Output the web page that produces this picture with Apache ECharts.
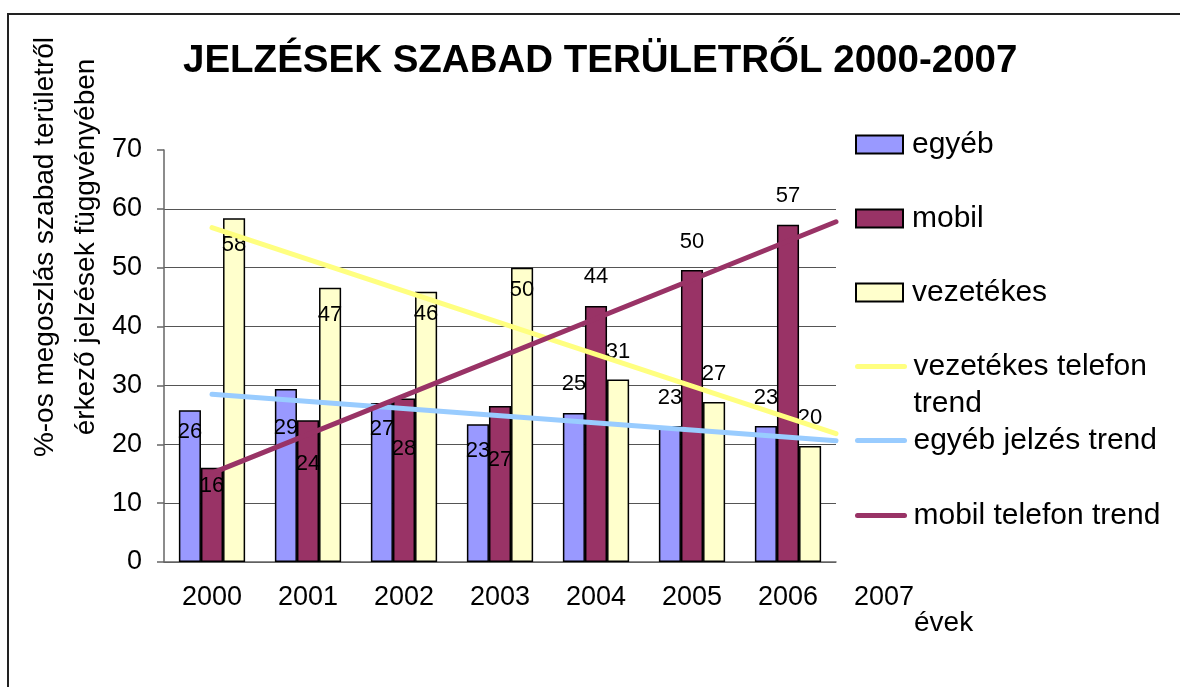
<!DOCTYPE html>
<html>
<head>
<meta charset="utf-8">
<script src="https://cdn.jsdelivr.net/npm/echarts@6/dist/echarts.min.js"></script>
<style>
  html, body { margin: 0; padding: 0; background: #fff; }
  #chart { width: 1180px; height: 687px; }
</style>
</head>
<body>
<div id="chart"></div>
<script>
const years = ["2000", "2001", "2002", "2003", "2004", "2005", "2006", "2007"];
const barYears = years.slice(0, 7);

const egyeb = [25.8, 29.4, 27.0, 23.4, 25.3, 23.1, 23.1];
const mobil = [16.0, 24.1, 27.8, 26.5, 43.5, 49.6, 57.3];
const vezetekes = [58.4, 46.6, 45.9, 50.0, 31.0, 27.2, 19.7];

// trend lines: start and end (x = category position)
const trendX = [0, 6.5];
const vezetekesTrend = [56.8, 21.8];
const egyebTrend = [28.5, 20.6];
const mobilTrend = [15.1, 57.8];

const yMin = 0, yMax = 70, yStep = 10;

const FONT = "'Liberation Sans', Arial, sans-serif";

// where each value label sits, relative to the bar top (px)
const labelDy = {
  "egyéb": [22, 39, 26, 27, -29, -28, -28],
  "mobil": [18, 44, 51, 54, -29, -28, -29],
  "vezetékes": [27, 27, 22, 22, -28, -28, -28]
};

const chart = echarts.init(document.getElementById("chart"));

function barSeries(name, values, color) {
  return {
    name: name,
    type: "bar",
    xAxisIndex: 0,
    yAxisIndex: 0,
    barGap: "0%",
    barCategoryGap: "31%",
    itemStyle: { color: color, borderColor: "#000", borderWidth: 1.5 },
    label: {
      show: true,
      align: "center",
      verticalAlign: "middle",
      formatter: (p) => Math.round(p.value),
      fontSize: 22,
      fontFamily: FONT,
      color: "#000"
    },
    data: values.map((v, i) => ({
      value: v,
      label: { position: ["50%", labelDy[name][i]] }
    }))
  };
}

function trendSeries(name, values, color) {
  return {
    name: name,
    type: "line",
    xAxisIndex: 2,
    yAxisIndex: 0,
    symbol: "none",
    z: 5,
    lineStyle: { color: color, width: 5, cap: "round" },
    itemStyle: { color: color },
    data: trendX.map((x, i) => [x, values[i]])
  };
}

const legendText = { fontSize: 30, fontFamily: FONT, color: "#000", lineHeight: 37, padding: [0, 0, 0, 4] };
const lineLegend = {
  orient: "vertical",
  left: 855,
  padding: 0,
  itemWidth: 47,
  itemHeight: 18,
  itemStyle: { opacity: 0 },
  lineStyle: { width: 5, cap: "round" },
  textStyle: legendText
};

const option = {
  animation: false,
  title: {
    text: "JELZÉSEK SZABAD TERÜLETRŐL 2000-2007",
    left: 178,
    top: 37,
    textStyle: { fontSize: 38.5, fontWeight: "bold", fontFamily: FONT, color: "#000" }
  },
  legend: [
    {
      orient: "vertical",
      left: 855,
      top: 126,
      padding: 0,
      itemWidth: 47,
      itemHeight: 18,
      itemGap: 37,
      icon: "rect",
      data: ["egyéb", "mobil", "vezetékes"],
      textStyle: legendText
    },
    Object.assign({}, lineLegend, {
      top: 311,
      data: ["vezetékes telefon trend"],
      formatter: () => "\u00a0\nvezetékes telefon\ntrend"
    }),
    Object.assign({}, lineLegend, {
      top: 422,
      itemGap: 38,
      data: ["egyéb jelzés trend", "mobil telefon trend"]
    })
  ],
  grid: [
    { left: 164, top: 150, width: 672, height: 412, outerBoundsMode: "none" },
    { left: 164, top: 150, width: 768, height: 412, outerBoundsMode: "none" }
  ],
  xAxis: [
    {
      type: "category",
      gridIndex: 0,
      data: barYears,
      axisLine: { lineStyle: { color: "#666", width: 1.5 } },
      axisTick: { length: 7, lineStyle: { color: "#666", width: 1.5 } },
      axisLabel: { show: false }
    },
    {
      type: "category",
      gridIndex: 1,
      data: years,
      axisLine: { show: false },
      axisTick: { show: false },
      axisLabel: { margin: 22, fontSize: 27, fontFamily: FONT, color: "#000" }
    },
    {
      type: "value",
      gridIndex: 0,
      min: -0.5,
      max: 6.5,
      show: false
    }
  ],
  yAxis: [
    {
      type: "value",
      gridIndex: 0,
      min: yMin,
      max: yMax,
      interval: yStep,
      axisLine: { show: true, onZero: false, lineStyle: { color: "#666", width: 1.5 } },
      axisTick: { show: true, length: 7, lineStyle: { color: "#666", width: 1.5 } },
      axisLabel: { margin: 22, fontSize: 27, fontFamily: FONT, color: "#000" },
      splitLine: { show: true, showMaxLine: false, lineStyle: { color: "#555", width: 1.2 } }
    },
    {
      type: "value",
      gridIndex: 1,
      min: yMin,
      max: yMax,
      show: false
    }
  ],
  graphic: [
    {
      type: "rect",
      shape: { x: 8, y: 14, width: 1200, height: 720 },
      style: { fill: "none", stroke: "#222", lineWidth: 2 },
      silent: true
    },
    {
      type: "text",
      x: 66,
      y: 247,
      rotation: Math.PI / 2,
      style: {
        text: "%-os megoszlás szabad területről\nérkező jelzések függvényében",
        fontSize: 28,
        fontFamily: FONT,
        lineHeight: 41,
        align: "center",
        verticalAlign: "middle",
        fill: "#000"
      }
    },
    {
      type: "text",
      x: 914,
      y: 623,
      style: {
        text: "évek",
        fontSize: 28,
        fontFamily: FONT,
        align: "left",
        verticalAlign: "middle",
        fill: "#000"
      }
    }
  ],
  series: [
    barSeries("egyéb", egyeb, "#9999FF"),
    barSeries("mobil", mobil, "#993366"),
    barSeries("vezetékes", vezetekes, "#FFFFCC"),
    trendSeries("vezetékes telefon trend", vezetekesTrend, "#FFFF80"),
    trendSeries("egyéb jelzés trend", egyebTrend, "#99CCFF"),
    trendSeries("mobil telefon trend", mobilTrend, "#993366")
  ]
};

chart.setOption(option);
</script>
</body>
</html>
